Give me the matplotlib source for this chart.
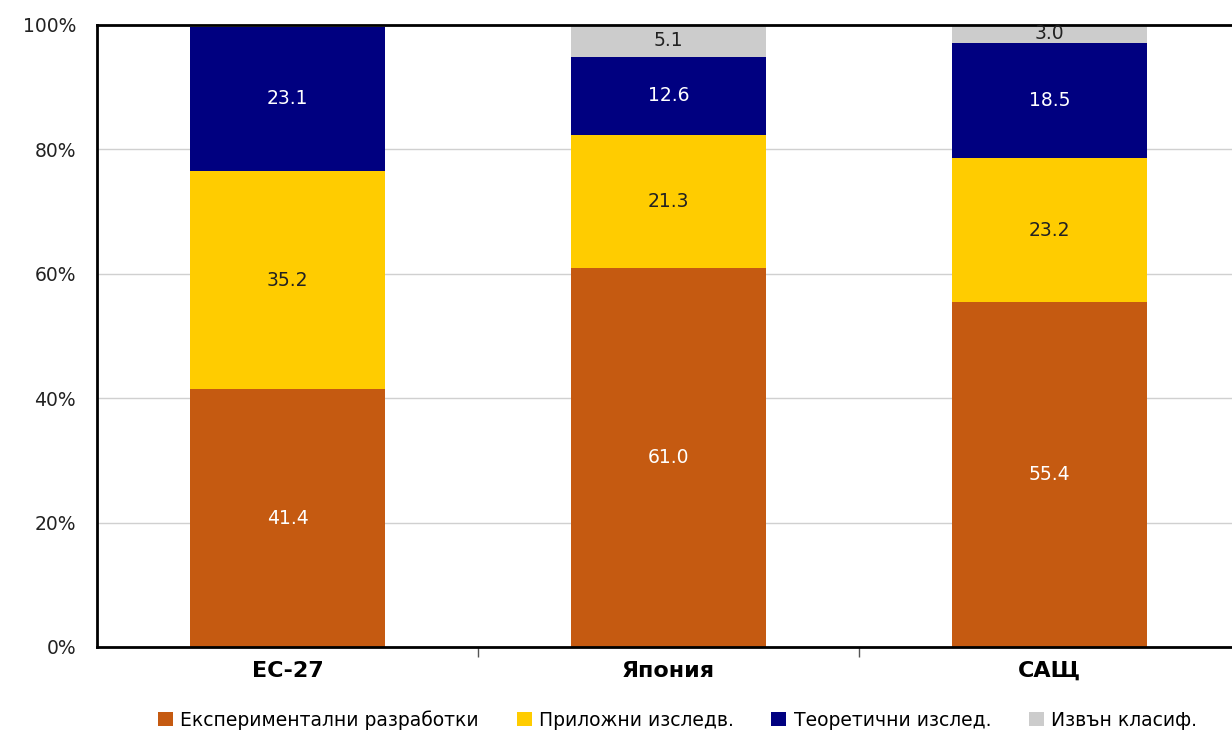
import matplotlib

matplotlib.use("Agg")
import matplotlib.pyplot as plt
import numpy as np

plt.rcParams["font.family"] = ["DejaVu Sans"]

categories = ["ЕС-27", "Япония", "САЩ"]
series_names = ["Експериментални разработки", "Приложни изследв.",
                "Теоретични изслед.", "Извън класиф."]
experimental = [41.4, 61.0, 55.4]
applied = [35.2, 21.3, 23.2]
basic = [23.1, 12.6, 18.5]
unclassified = [0.3, 5.1, 3.0]
colors = ["#C55A11", "#FFCC00", "#000080", "#CCCCCC"]
label_colors = ["white", "#222222", "white", "#222222"]

fig = plt.figure(figsize=(12.32, 7.31), dpi=100)
ax = fig.add_axes([97 / 1232, 84 / 731, 1143 / 1232, 622 / 731])

x = np.arange(len(categories))
bottom = np.zeros(len(categories))
for vals, name, col, lc in zip([experimental, applied, basic, unclassified],
                               series_names, colors, label_colors):
    vals = np.array(vals)
    ax.bar(x, vals, 0.51, bottom=bottom, color=col, label=name, zorder=2)
    for xi, v, b in zip(x, vals, bottom):
        if v >= 1:
            ax.text(xi, b + v / 2, f"{v:.1f}", ha="center", va="center",
                    color=lc, fontsize=13.5, zorder=3)
    bottom += vals

ax.set_xlim(-0.5, 2.5)
ax.set_ylim(0, 100)
ax.set_yticks(np.arange(0, 101, 20))
ax.set_yticklabels([f"{v}%" for v in range(0, 101, 20)], fontsize=13.5, color="#222222")
ax.tick_params(axis="y", length=0, pad=15)
ax.grid(axis="y", color="#D0D0D0", linewidth=1, zorder=0)

ax.set_xticks(x)
ax.set_xticklabels(categories, fontsize=16, fontweight="bold")
ax.set_xticks([0.5, 1.5], minor=True)
ax.tick_params(axis="x", which="major", length=0, pad=10)
ax.tick_params(axis="x", which="minor", length=7, width=1, color="#555555", direction="out")

for side in ["left", "bottom", "top"]:
    ax.spines[side].set_linewidth(2)
    ax.spines[side].set_color("black")
ax.spines["right"].set_visible(False)

ax.legend(loc="center", bbox_to_anchor=(0.508, -0.117), ncol=4, frameon=False,
          fontsize=13.5, handlelength=0.8, handleheight=0.8, handletextpad=0.4,
          columnspacing=2.0, borderpad=0)

fig.savefig("out.png", dpi=100)
